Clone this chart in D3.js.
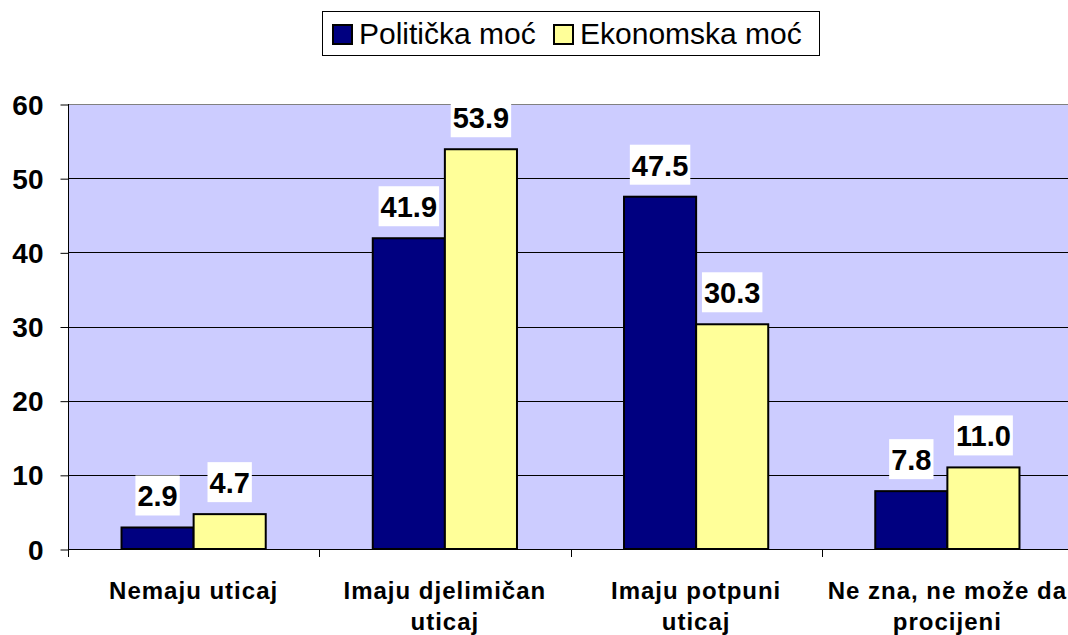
<!DOCTYPE html>
<html>
<head>
<meta charset="utf-8">
<script src="https://cdn.jsdelivr.net/npm/d3@7"></script>
<style>
  body { margin: 0; background: #fff; }
  svg { display: block; font-family: Arial, "Liberation Sans", sans-serif; }
</style>
</head>
<body>
<div id="chart"></div>
<script>
// data
const categories = [
  ["Nemaju uticaj"],
  ["Imaju djelimičan", "uticaj"],
  ["Imaju potpuni", "uticaj"],
  ["Ne zna, ne može da", "procijeni"]
];
const seriesNames = ["Politička moć", "Ekonomska moć"];
const politicka = [2.9, 41.9, 47.5, 7.8];
const ekonomska = [4.7, 53.9, 30.3, 11.0];
const yTicks = [0, 10, 20, 30, 40, 50, 60];

const colors = ["#000080", "#FFFF99"];

const width = 1068;
const height = 635;
const plot = { left: 68, top: 104, bottom: 549, right: 1073 };

const svg = d3.select("#chart")
  .append("svg")
  .attr("width", width)
  .attr("height", height);

const catKeys = categories.map(c => c.join(" "));

const x = d3.scaleBand()
  .domain(catKeys)
  .range([plot.left, plot.right])
  .paddingInner(0.426)
  .paddingOuter(0.213);

const xs = d3.scaleBand()
  .domain(seriesNames)
  .range([0, x.bandwidth()]);

const y = d3.scaleLinear()
  .domain([0, 60])
  .range([plot.bottom, plot.top]);

// plot background
svg.append("rect")
  .attr("x", plot.left)
  .attr("y", plot.top)
  .attr("width", plot.right - plot.left)
  .attr("height", plot.bottom - plot.top)
  .attr("fill", "#CCCCFF");

// gridlines
svg.append("g")
  .selectAll("line")
  .data(yTicks.filter(t => t > 0))
  .join("line")
  .attr("x1", plot.left)
  .attr("x2", plot.right)
  .attr("y1", d => Math.round(y(d)) + 0.5)
  .attr("y2", d => Math.round(y(d)) + 0.5)
  .attr("stroke", d => d === 60 ? "#808080" : "#000")
  .attr("stroke-width", 1);

// y axis
const yAxis = svg.append("g")
  .attr("transform", `translate(${plot.left + 0.5},0)`)
  .call(d3.axisLeft(y).tickValues(yTicks).tickSize(8).tickPadding(17).tickSizeOuter(0));
yAxis.select(".domain").attr("stroke", "#000").attr("d", `M0,${plot.top}V${plot.bottom + 8}`);
yAxis.selectAll(".tick line").attr("stroke", "#000")
  .attr("transform", "translate(0,0.5)");
yAxis.selectAll("text")
  .attr("font-size", "28px")
  .attr("font-weight", "bold")
  .attr("fill", "#000")
  .attr("font-family", "Arial, 'Liberation Sans', sans-serif")
  .attr("dy", "0.36em");

// bars
const rows = categories.map((c, i) => ({
  key: catKeys[i],
  values: [politicka[i], ekonomska[i]]
}));

const groups = svg.append("g")
  .selectAll("g")
  .data(rows)
  .join("g")
  .attr("transform", d => `translate(${x(d.key)},0)`);

groups.selectAll("rect")
  .data(d => d.values.map((v, j) => ({ name: seriesNames[j], value: v, j })))
  .join("rect")
  .attr("x", d => xs(d.name))
  .attr("y", d => y(d.value))
  .attr("width", xs.bandwidth())
  .attr("height", d => y(0) - y(d.value))
  .attr("fill", d => colors[d.j])
  .attr("stroke", "#000")
  .attr("stroke-width", 2);

// x axis line + ticks at category boundaries
svg.append("line")
  .attr("x1", plot.left)
  .attr("x2", plot.right)
  .attr("y1", plot.bottom + 0.5)
  .attr("y2", plot.bottom + 0.5)
  .attr("stroke", "#000");

const step = x.step();
svg.append("g")
  .selectAll("line")
  .data(d3.range(categories.length + 1))
  .join("line")
  .attr("x1", i => Math.round(plot.left + i * step) + 0.5)
  .attr("x2", i => Math.round(plot.left + i * step) + 0.5)
  .attr("y1", plot.bottom)
  .attr("y2", plot.bottom + 8)
  .attr("stroke", "#000");

// value labels with white boxes
groups.each(function(d) {
  const g = d3.select(this);
  d.values.forEach((v, j) => {
    const cx = xs(seriesNames[j]) + xs.bandwidth() / 2;
    const base = y(v) - 21;
    const t = g.append("text")
      .attr("x", cx)
      .attr("y", base)
      .attr("text-anchor", "middle")
      .attr("font-size", "29px")
      .attr("font-weight", "bold")
      .attr("fill", "#000")
      .text(v.toFixed(1));
    const bb = t.node().getBBox();
    g.insert("rect", () => t.node())
      .attr("x", bb.x - 2)
      .attr("y", base - 31)
      .attr("width", bb.width + 4)
      .attr("height", 40)
      .attr("fill", "#fff");
  });
});

// category labels
const catLabels = svg.append("g")
  .selectAll("text")
  .data(categories)
  .join("text")
  .attr("x", (d, i) => x(catKeys[i]) + x.bandwidth() / 2)
  .attr("y", 599)
  .attr("text-anchor", "middle")
  .attr("font-size", "24px")
  .attr("font-weight", "bold")
  .attr("letter-spacing", "1px")
  .attr("fill", "#000");

catLabels.selectAll("tspan")
  .data(d => d)
  .join("tspan")
  .attr("x", function() { return d3.select(this.parentNode).attr("x"); })
  .attr("dy", (d, i) => i === 0 ? 0 : 31)
  .text(d => d);

// legend
const legend = svg.append("g");
legend.append("rect")
  .attr("x", 322.5)
  .attr("y", 11.5)
  .attr("width", 497)
  .attr("height", 44)
  .attr("fill", "#fff")
  .attr("stroke", "#000");

const legendX = [332, 553];
seriesNames.forEach((name, j) => {
  legend.append("rect")
    .attr("x", legendX[j] + 1)
    .attr("y", 25)
    .attr("width", 19)
    .attr("height", 19)
    .attr("fill", colors[j])
    .attr("stroke", "#000")
    .attr("stroke-width", 2);
  legend.append("text")
    .attr("x", legendX[j] + 27)
    .attr("y", 44)
    .attr("font-size", "30px")
    .attr("fill", "#000")
    .text(name);
});
</script>
</body>
</html>
